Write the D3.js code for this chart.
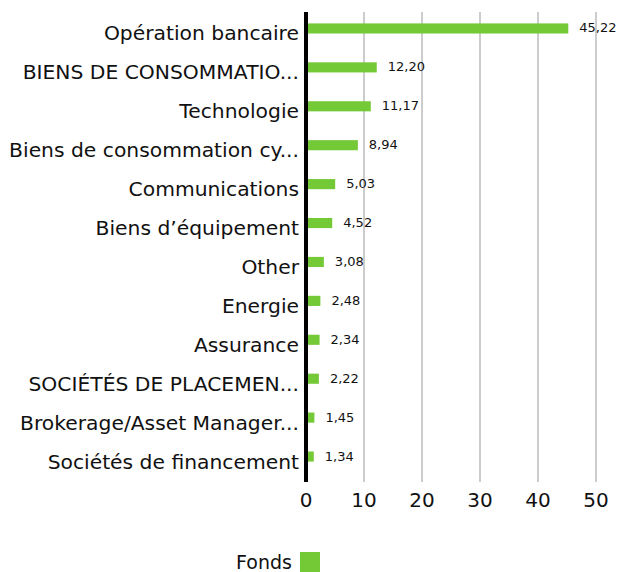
<!DOCTYPE html>
<html>
<head>
    <meta charset="utf-8">
    <script src="https://d3js.org/d3.v7.min.js"></script>
    <style>
        body { margin: 0; background: #fff; }
        text { font-family: "DejaVu Sans", sans-serif; fill: #111; }
    </style>
</head>
<body>
    <svg width="617" height="572" id="mainSvg"></svg>
    <script>
        const categories = [
            "Opération bancaire",
            "BIENS DE CONSOMMATIO...",
            "Technologie",
            "Biens de consommation cy...",
            "Communications",
            "Biens d’équipement",
            "Other",
            "Energie",
            "Assurance",
            "SOCIÉTÉS DE PLACEMEN...",
            "Brokerage/Asset Manager...",
            "Sociétés de financement"
        ];
        const values = [45.22, 12.20, 11.17, 8.94, 5.03, 4.52, 3.08, 2.48, 2.34, 2.22, 1.45, 1.34];
        const ticks = [0, 10, 20, 30, 40, 50];
        const seriesName = "Fonds";
        const green = "#74c936";

        const svg = d3.select("#mainSvg");

        const x = d3.scaleLinear().domain([0, 50]).range([306, 596]);
        const y = d3.scaleBand().domain(categories).range([9, 476]).paddingInner(0.74).paddingOuter(0.37);

        // gridlines
        svg.append("g").selectAll("line").data(ticks.slice(1)).join("line")
            .attr("x1", d => x(d)).attr("x2", d => x(d))
            .attr("y1", 12).attr("y2", 482)
            .attr("stroke", "#cccccc").attr("stroke-width", 2);

        // bars
        svg.append("g").selectAll("rect").data(values).join("rect")
            .attr("x", x(0))
            .attr("y", (d, i) => y(categories[i]))
            .attr("width", d => x(d) - x(0))
            .attr("height", y.bandwidth())
            .attr("fill", green);

        // value labels
        svg.append("g").selectAll("text").data(values).join("text")
            .attr("x", d => x(d) + 11)
            .attr("y", (d, i) => y(categories[i]) + y.bandwidth() / 2 + 4)
            .attr("font-size", 13)
            .text(d => d.toFixed(2).replace(".", ","));

        // category labels
        svg.append("g").selectAll("text").data(categories).join("text")
            .attr("x", 299)
            .attr("y", d => y(d) + y.bandwidth() / 2 + 12)
            .attr("text-anchor", "end")
            .attr("font-size", 20.3)
            .text(d => d);

        // zero axis line
        svg.append("line")
            .attr("x1", x(0)).attr("x2", x(0))
            .attr("y1", 12).attr("y2", 482)
            .attr("stroke", "#000").attr("stroke-width", 4);

        // tick labels
        svg.append("g").selectAll("text").data(ticks).join("text")
            .attr("x", d => x(d))
            .attr("y", 507)
            .attr("text-anchor", "middle")
            .attr("font-size", 20)
            .text(d => d);

        // legend
        svg.append("text")
            .attr("x", 292).attr("y", 569)
            .attr("text-anchor", "end")
            .attr("font-size", 19)
            .text(seriesName);
        svg.append("rect")
            .attr("x", 300).attr("y", 552)
            .attr("width", 20).attr("height", 20)
            .attr("fill", green);
    </script>
</body>
</html>
